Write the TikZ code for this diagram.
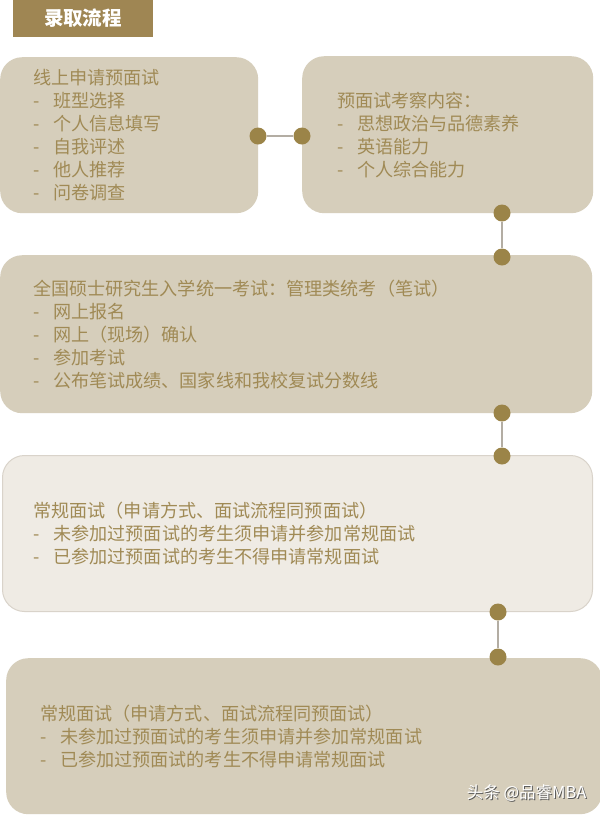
\documentclass[tikz,border=0pt]{standalone}
\usepackage{fontspec}
\setmainfont{Noto Sans CJK SC}
\definecolor{boxfill}{HTML}{D6CEBB}
\definecolor{boxlight}{HTML}{EFEBE4}
\definecolor{boxedge}{HTML}{D9D3CA}
\definecolor{gold}{HTML}{A08A55}
\definecolor{titlebg}{HTML}{9F8653}
\definecolor{dotcol}{HTML}{9B8448}
\definecolor{linecol}{HTML}{B3ADA3}
\newcommand{\dd}{\makebox[20pt][l]{-}}
\tikzset{
  stagebox/.style={rectangle, rounded corners=22pt, fill=boxfill, text=gold,
    font=\fontsize{18.1}{23}\selectfont, align=left, anchor=north west, inner ysep=0pt},
  dot/.style={circle, fill=dotcol, minimum size=17pt, inner sep=0pt},
  link/.style={draw=linecol, line width=1.5pt},
}
\begin{document}
\begin{tikzpicture}[x=1pt,y=-1pt]
\useasboundingbox (0,0) rectangle (600,815);
\fill[white] (0,0) rectangle (600,815);
% title
\node[fill=titlebg, text=white, minimum width=140pt, minimum height=37pt, inner sep=0pt,
  font=\fontsize{19.5}{19.5}\selectfont\bfseries] (title) at (83,18.5) {录取流程};
% boxes
\node[stagebox, inner xsep=33pt, text width=192pt, minimum height=156pt] (b1) at (0,57)
 {线上申请预面试\\\dd 班型选择\\\dd 个人信息填写\\\dd 自我评述\\\dd 他人推荐\\\dd 问卷调查};
\node[stagebox, inner xsep=35pt, text width=221pt, minimum height=157pt] (b2) at (302,56)
 {预面试考察内容：\\\dd 思想政治与品德素养\\\dd 英语能力\\\dd 个人综合能力};
\node[stagebox, inner xsep=33pt, text width=526pt, minimum height=158pt] (b3) at (0,255)
 {全国硕士研究生入学统一考试：管理类统考（笔试）\\\dd 网上报名\\\dd 网上（现场）确认\\\dd 参加考试\\\dd 公布笔试成绩、国家线和我校复试分数线};
\node[stagebox, fill=boxlight, draw=boxedge, line width=1pt, inner xsep=31pt, text width=528pt, minimum height=156pt] (b4) at (2,455)
 {常规面试（申请方式、面试流程同预面试）\\\dd 未参加过预面试的考生须申请并参加常规面试\\\dd 已参加过预面试的考生不得申请常规面试};
\node[stagebox, inner xsep=34pt, text width=528pt, minimum height=156pt] (b5) at (6,658)
 {常规面试（申请方式、面试流程同预面试）\\\dd 未参加过预面试的考生须申请并参加常规面试\\\dd 已参加过预面试的考生不得申请常规面试};
% dots
\node[dot] (d1) at (258,136) {};
\node[dot] (d2) at (302,136) {};
\node[dot] (d3) at (502,213) {};
\node[dot] (d4) at (502,257) {};
\node[dot] (d5) at (502,413) {};
\node[dot] (d6) at (502,456) {};
\node[dot] (d7) at (498,612) {};
\node[dot] (d8) at (498,657) {};
% connectors
\draw[link] (d1) -- (d2);
\draw[link] (d3) -- (d4);
\draw[link] (d5) -- (d6);
\draw[link] (d7) -- (d8);
% watermark
\node[text=black!65, font=\fontsize{16.5}{16.5}\selectfont, anchor=east] (wms) at (591,794) {头条 @品睿MBA};
\node[text=white, font=\fontsize{16.5}{16.5}\selectfont, anchor=east] (wm) at (590,793) {头条 @品睿MBA};
\end{tikzpicture}
\end{document}
